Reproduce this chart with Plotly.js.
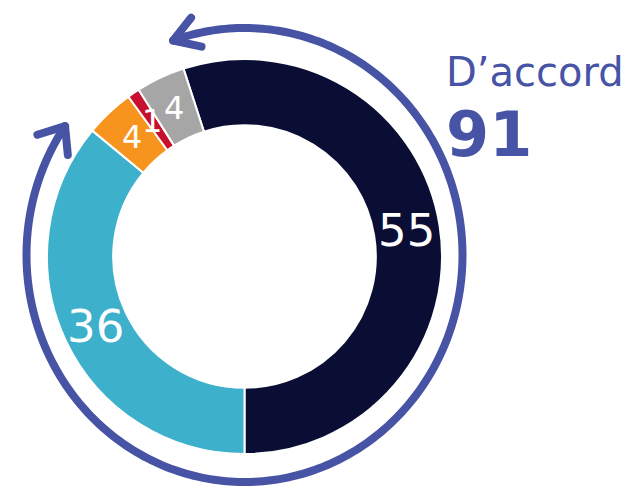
<!DOCTYPE html>
<html><head><meta charset="utf-8">
<script src="https://cdn.plot.ly/plotly-3.0.1.min.js"></script>
<style>html,body{margin:0;padding:0;background:#fff;overflow:hidden}#chart{width:630px;height:489px}</style>
</head><body><div id="chart"></div>
<script>
// ---- data ----
const categories = ['Tout à fait d’accord', 'Plutôt d’accord', 'Plutôt pas d’accord', 'Pas du tout d’accord', 'Ne se prononce pas'];
const values = [55, 36, 4, 1, 4];
const sliceColors = ['#0a0e34', '#3db0cb', '#f7941e', '#c8102e', '#a6a6a6'];
const headlineLabel = 'D’accord';
const headlineValue = values[0] + values[1];

// ---- layout geometry (pixels) ----
const W = 630, H = 489;
const cx = 244.5, cy = 256.5, R = 197.5, hole = 0.665;
const rotation = -18;
const arrowColor = '#4753a4';
const ell = {cx: 244.5, cy: 255, rx: 218, ry: 227, t0: -19.1, t1: 304.6};

const px = x => x / W;
const py = y => 1 - y / H;

const total = values.reduce((a, b) => a + b, 0);
const rMid = R * (1 + hole) / 2;
const annotations = [];
let cum = 0;
values.forEach((v, i) => {
  const a = (rotation + (cum + v / 2) / total * 360) * Math.PI / 180;
  cum += v;
  annotations.push({
    xref: 'paper', yref: 'paper',
    x: px(cx + rMid * Math.sin(a)), y: py(cy - rMid * Math.cos(a)),
    xanchor: 'center', yanchor: 'middle', showarrow: false,
    text: String(v),
    font: {family: 'DejaVu Sans, Verdana, sans-serif', size: v >= 10 ? 45 : 32, color: '#ffffff'}
  });
});
annotations.push({
  xref: 'paper', yref: 'paper', x: px(444), y: py(72), xanchor: 'left', yanchor: 'middle',
  showarrow: false, text: headlineLabel,
  font: {family: 'DejaVu Sans, Verdana, sans-serif', size: 40, color: arrowColor}
});
annotations.push({
  xref: 'paper', yref: 'paper', x: px(444), y: py(134), xanchor: 'left', yanchor: 'middle',
  showarrow: false, text: '<b>' + headlineValue + '</b>',
  font: {family: 'DejaVu Sans, Verdana, sans-serif', size: 62, color: arrowColor}
});

// arc
function ellPt(tDeg) {
  const t = tDeg * Math.PI / 180;
  return [ell.cx + ell.rx * Math.sin(t), ell.cy - ell.ry * Math.cos(t)];
}
let arc = '';
for (let t = ell.t0; t <= ell.t1 + 1e-9; t += (ell.t1 - ell.t0) / 300) {
  const p = ellPt(t);
  arc += (arc ? ' L' : 'M') + px(p[0]).toFixed(5) + ',' + py(p[1]).toFixed(5);
}
function head(tDeg, dirSign, spread, len) {
  const tip = ellPt(tDeg);
  const t = tDeg * Math.PI / 180;
  let dx = ell.rx * Math.cos(t) * dirSign, dy = ell.ry * Math.sin(t) * dirSign;
  const n = Math.hypot(dx, dy); dx /= n; dy /= n;
  const base = Math.atan2(dy, dx);
  const s = spread * Math.PI / 180;
  const a1 = [tip[0] + len * Math.cos(base + s), tip[1] + len * Math.sin(base + s)];
  const a2 = [tip[0] + len * Math.cos(base - s), tip[1] + len * Math.sin(base - s)];
  return 'M' + px(a1[0]) + ',' + py(a1[1]) + ' L' + px(tip[0]) + ',' + py(tip[1]) + ' L' + px(a2[0]) + ',' + py(a2[1]);
}
const lineStyle = {color: arrowColor, width: 8};
const shapes = [
  {type: 'path', xref: 'paper', yref: 'paper', path: arc, line: lineStyle},
  {type: 'path', xref: 'paper', yref: 'paper', path: head(ell.t0, 1, 32, 29), line: lineStyle},
  {type: 'path', xref: 'paper', yref: 'paper', path: head(ell.t1, -1, 39, 29), line: lineStyle}
];

const trace = {
  type: 'pie', labels: categories, values: values, sort: false, direction: 'clockwise',
  rotation: rotation, hole: hole, textinfo: 'none', hoverinfo: 'label+value',
  marker: {colors: sliceColors, line: {color: '#ffffff', width: 2}},
  domain: {x: [(cx - R) / W, (cx + R) / W], y: [1 - (cy + R) / H, 1 - (cy - R) / H]}
};
const layout = {
  width: W, height: H, margin: {l: 0, r: 0, t: 0, b: 0},
  paper_bgcolor: '#ffffff', showlegend: false,
  annotations: annotations, shapes: shapes
};
Plotly.newPlot('chart', [trace], layout, {staticPlot: true, displayModeBar: false}).then(() => {
  document.querySelectorAll('.shapelayer path').forEach(p => {
    p.style.strokeLinecap = 'round'; p.style.strokeLinejoin = 'round';
  });
});
</script></body></html>
